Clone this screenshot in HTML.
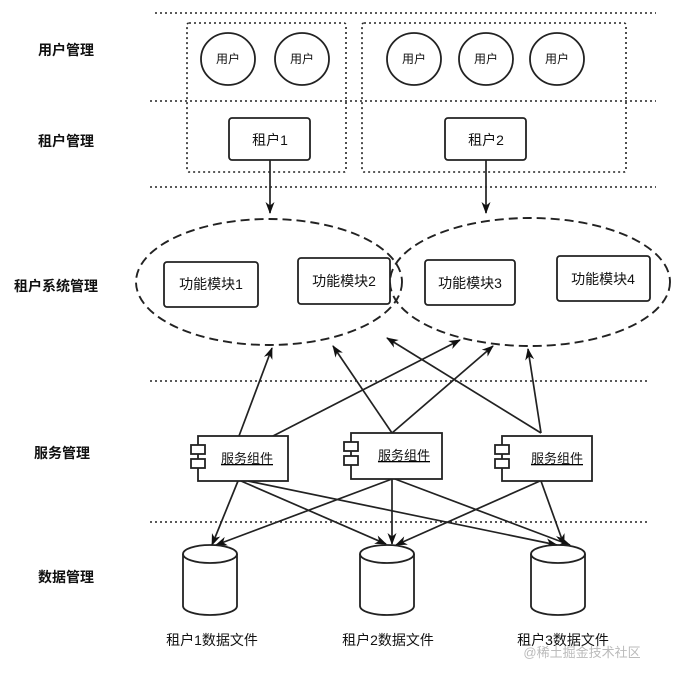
<!DOCTYPE html>
<html><head><meta charset="utf-8"><style>
body{margin:0;background:#fff;width:686px;height:678px;overflow:hidden}
text{font-family:"Liberation Sans","Noto Sans CJK SC",sans-serif;fill:#111}
</style></head><body>
<svg width="686" height="678" viewBox="0 0 686 678" xmlns="http://www.w3.org/2000/svg">
<defs><marker id="a" markerWidth="12" markerHeight="12" refX="11" refY="6" orient="auto" markerUnits="userSpaceOnUse"><path d="M0,1.5 L12,6 L0,10.5 L3.5,6 Z" fill="#111"/></marker></defs>
<g stroke="#222" stroke-width="1.6" stroke-dasharray="2,3" fill="none">
<line x1="155" y1="13" x2="656" y2="13"/>
<line x1="150" y1="101" x2="656" y2="101"/>
<line x1="150" y1="187" x2="656" y2="187"/>
<line x1="150" y1="381" x2="648" y2="381"/>
<line x1="150" y1="522" x2="648" y2="522"/>
<rect x="187" y="23" width="159" height="149" rx="2"/>
<rect x="362" y="23" width="264" height="149" rx="2"/>
</g>
<g stroke="#222" stroke-width="1.8" fill="#fff">
<ellipse cx="228" cy="59" rx="27" ry="26"/><ellipse cx="302" cy="59" rx="27" ry="26"/>
<ellipse cx="414" cy="59" rx="27" ry="26"/><ellipse cx="486" cy="59" rx="27" ry="26"/><ellipse cx="557" cy="59" rx="27" ry="26"/>
<rect x="229" y="118" width="81" height="42" rx="3"/>
<rect x="445" y="118" width="81" height="42" rx="3"/>
</g>
<g font-size="12" text-anchor="middle"><text x="228" y="63">用户</text><text x="302" y="63">用户</text><text x="414" y="63">用户</text><text x="486" y="63">用户</text><text x="557" y="63">用户</text></g>
<g font-size="14" text-anchor="middle"><text x="270" y="145">租户1</text><text x="486" y="145">租户2</text></g>
<g stroke="#222" stroke-width="1.7" fill="none" marker-end="url(#a)">
<line x1="270" y1="160" x2="270" y2="213"/><line x1="486" y1="160" x2="486" y2="213"/>
</g>
<g stroke="#222" stroke-width="1.9" stroke-dasharray="9,5" fill="none">
<ellipse cx="269" cy="282" rx="133" ry="63"/>
<ellipse cx="530" cy="282" rx="140" ry="64"/>
</g>
<g stroke="#222" stroke-width="1.8" fill="#fff">
<rect x="164" y="262" width="94" height="45" rx="3"/>
<rect x="298" y="258" width="92" height="46" rx="3"/>
<rect x="425" y="260" width="90" height="45" rx="3"/>
<rect x="557" y="256" width="93" height="45" rx="3"/>
</g>
<g font-size="14" text-anchor="middle"><text x="211" y="289">功能模块1</text><text x="344" y="286">功能模块2</text><text x="470" y="288">功能模块3</text><text x="603" y="284">功能模块4</text></g>
<g stroke="#222" stroke-width="1.7" fill="none" marker-end="url(#a)">
<line x1="239" y1="436" x2="272" y2="348"/>
<line x1="273" y1="436" x2="460" y2="340"/>
<line x1="392" y1="433" x2="333" y2="346"/>
<line x1="392" y1="433" x2="493" y2="346"/>
<line x1="541" y1="433" x2="387" y2="338"/>
<line x1="541" y1="433" x2="528" y2="349"/>
<line x1="238" y1="481" x2="212" y2="545"/>
<line x1="241" y1="481" x2="386" y2="544"/>
<line x1="248" y1="481" x2="557" y2="545"/>
<line x1="392" y1="479" x2="216" y2="545"/>
<line x1="392" y1="479" x2="392" y2="544"/>
<line x1="395" y1="479" x2="570" y2="545"/>
<line x1="540" y1="481" x2="396" y2="545"/>
<line x1="541" y1="481" x2="564" y2="545"/>
</g>
<g stroke="#222" stroke-width="1.8" fill="#fff">
<rect x="198" y="436" width="90" height="45"/><rect x="191" y="445" width="14" height="9"/><rect x="191" y="459" width="14" height="9"/>
<rect x="351" y="433" width="91" height="46"/><rect x="344" y="442" width="14" height="9"/><rect x="344" y="456" width="14" height="9"/>
<rect x="502" y="436" width="90" height="45"/><rect x="495" y="445" width="14" height="9"/><rect x="495" y="459" width="14" height="9"/>
</g>
<g font-size="13" text-anchor="middle" text-decoration="underline"><text x="247" y="463">服务组件</text><text x="404" y="460">服务组件</text><text x="557" y="463">服务组件</text></g>
<g stroke="#222" stroke-width="1.8" fill="#fff">
<path d="M183,554 L183,606 A27,9 0 0 0 237,606 L237,554"/><ellipse cx="210" cy="554" rx="27" ry="9"/>
<path d="M360,554 L360,606 A27,9 0 0 0 414,606 L414,554"/><ellipse cx="387" cy="554" rx="27" ry="9"/>
<path d="M531,554 L531,606 A27,9 0 0 0 585,606 L585,554"/><ellipse cx="558" cy="554" rx="27" ry="9"/>
</g>
<g font-size="14" text-anchor="middle"><text x="212" y="645">租户1数据文件</text><text x="388" y="645">租户2数据文件</text><text x="563" y="645">租户3数据文件</text></g>
<text x="582" y="657" font-size="13" text-anchor="middle" style="fill:#bbb">@稀土掘金技术社区</text>
<g font-size="14" font-weight="bold"><text x="38" y="55">用户管理</text><text x="38" y="146">租户管理</text><text x="14" y="291">租户系统管理</text><text x="34" y="458">服务管理</text><text x="38" y="582">数据管理</text></g>
</svg>
</body></html>
